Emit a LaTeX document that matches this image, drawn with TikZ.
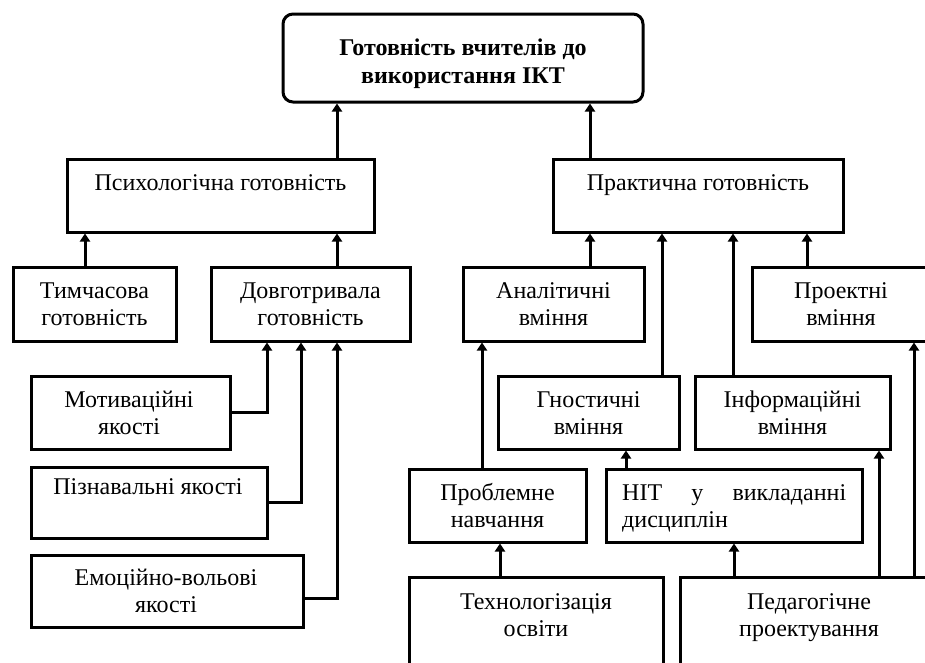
\documentclass[tikz,border=0pt]{standalone}
\usepackage{fontspec}
\newfontfamily\tnr{Liberation Serif}
\usetikzlibrary{arrows.meta}
\begin{document}
\begin{tikzpicture}[x=1pt,y=-1pt,
  box/.style={draw=black, line width=3pt, rectangle, inner sep=0pt, fill=white},
  lbl/.style={anchor=base, align=center, inner sep=0pt, font=\tnr\fontsize{24}{27.5}\selectfont},
  arr/.style={line width=3pt, -{Triangle[width=10pt,length=8pt]}}]
\useasboundingbox (0,0) rectangle (925,662);
\clip (0,0) rectangle (925,662);
\fill[white] (0,0) rectangle (925,662);
% connector x positions
\coordinate (X85) at (85,0);
\coordinate (X267) at (267,0);
\coordinate (X301) at (301,0);
\coordinate (X337) at (337,0);
\coordinate (X482) at (482,0);
\coordinate (X500) at (500,0);
\coordinate (X590) at (590,0);
\coordinate (X626) at (626,0);
\coordinate (X662) at (662,0);
\coordinate (X733) at (733,0);
\coordinate (X734) at (734,0);
\coordinate (X807) at (807,0);
\coordinate (X879) at (879,0);
\coordinate (X914) at (914,0);
% boxes
\node[box, rounded corners=10pt, minimum width=360pt, minimum height=88pt] (top) at (463,58) {};
\node[box, minimum width=307pt, minimum height=73pt] (psych) at (220.5,195.5) {};
\node[box, minimum width=290pt, minimum height=73pt] (prakt) at (698,195.5) {};
\node[box, minimum width=163pt, minimum height=74pt] (tymch) at (94.5,304) {};
\node[box, minimum width=199pt, minimum height=74pt] (dovh) at (310.5,304) {};
\node[box, minimum width=181pt, minimum height=74pt] (analit) at (553.5,304) {};
\node[box, minimum width=188pt, minimum height=74pt] (proekt) at (846,304) {};
\node[box, minimum width=199pt, minimum height=73pt] (motyv) at (130.5,412.5) {};
\node[box, minimum width=236pt, minimum height=71pt] (piznav) at (149,502.5) {};
\node[box, minimum width=272pt, minimum height=72pt] (emots) at (167,591) {};
\node[box, minimum width=181pt, minimum height=73pt] (hnost) at (588.5,412.5) {};
\node[box, minimum width=195pt, minimum height=73pt] (inform) at (792.5,412.5) {};
\node[box, minimum width=177pt, minimum height=73pt] (problem) at (497.5,505.5) {};
\node[box, minimum width=256pt, minimum height=73pt] (nit) at (734,505.5) {};
\node[box, minimum width=254pt, minimum height=103pt] (tekhn) at (536,628.5) {};
\node[box, minimum width=260pt, minimum height=103pt] (pedag) at (810,628.5) {};
% texts (base anchor = baseline of the last line)
\node[lbl, font=\tnr\fontsize{24}{28}\selectfont\bfseries] (ttop) at (463,83) {Готовність вчителів до\\використання ІКТ};
\node[lbl] (tpsych) at (220.5,190) {Психологічна готовність};
\node[lbl] (tprakt) at (698,190) {Практична готовність};
\node[lbl] (ttymch) at (94.5,325.5) {Тимчасова\\готовність};
\node[lbl] (tdovh) at (310.5,325.5) {Довготривала\\готовність};
\node[lbl] (tanalit) at (553.5,325.5) {Аналітичні\\вміння};
\node[lbl] (tproekt) at (841,325.5) {Проектні\\вміння};
\node[lbl] (tmotyv) at (129,434.5) {Мотиваційні\\якості};
\node[lbl] (tpiznav) at (148,494) {Пізнавальні якості};
\node[lbl] (temots) at (166,612.5) {Емоційно-вольові\\якості};
\node[lbl] (thnost) at (588.5,434.5) {Гностичні\\вміння};
\node[lbl] (tinform) at (792.5,434.5) {Інформаційні\\вміння};
\node[lbl] (tproblem) at (497.5,527.5) {Проблемне\\навчання};
\node[lbl, align=left, anchor=base west] (tnit) at (622,527.5) {\makebox[224pt][s]{НІТ у викладанні}\\дисциплін};
\node[lbl] (ttekhn) at (536,636.5) {Технологізація\\освіти};
\node[lbl] (tpedag) at (809,636.5) {Педагогічне\\проектування};
% connectors
\draw[arr] (psych.north -| X337) -- (top.south -| X337);
\draw[arr] (prakt.north -| X590) -- (top.south -| X590);
\draw[arr] (tymch.north -| X85) -- (psych.south -| X85);
\draw[arr] (dovh.north -| X337) -- (psych.south -| X337);
\draw[arr] (motyv.east) -| (dovh.south -| X267);
\draw[arr] (piznav.east) -| (dovh.south -| X301);
\draw[arr] ([yshift=-7pt]emots.east) -| (dovh.south -| X337);
\draw[arr] (analit.north -| X590) -- (prakt.south -| X590);
\draw[arr] (hnost.north -| X662) -- (prakt.south -| X662);
\draw[arr] (inform.north -| X733) -- (prakt.south -| X733);
\draw[arr] (proekt.north -| X807) -- (prakt.south -| X807);
\draw[arr] (problem.north -| X482) -- (analit.south -| X482);
\draw[arr] (nit.north -| X626) -- (hnost.south -| X626);
\draw[arr] (tekhn.north -| X500) -- (problem.south -| X500);
\draw[arr] (pedag.north -| X734) -- (nit.south -| X734);
\draw[arr] (pedag.north -| X879) -- (inform.south -| X879);
\draw[arr] (pedag.north -| X914) -- (proekt.south -| X914);
\end{tikzpicture}
\end{document}
